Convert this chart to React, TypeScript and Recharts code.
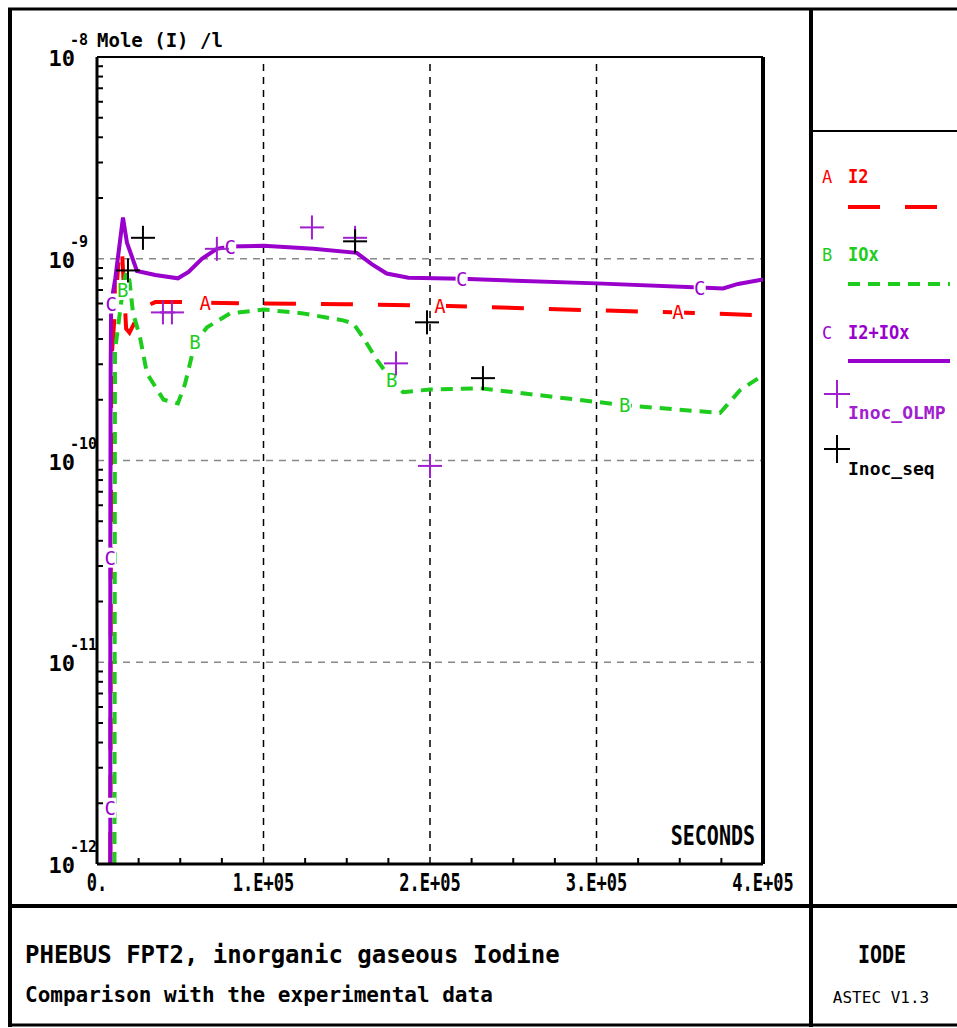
import React from 'react';
import { ComposedChart, Line, Scatter, XAxis, YAxis, ReferenceLine } from 'recharts';

// ---- data (seconds, mole/l) ----
const I2 = [
  { x: 8000, y: 1e-12 },
  { x: 8500, y: 3e-10 },
  { x: 13500, y: 1.14e-9 },
  { x: 15000, y: 1.1e-9 },
  { x: 17500, y: 4.5e-10 },
  { x: 19500, y: 4.3e-10 },
  { x: 24000, y: 5.1e-10 },
  { x: 29000, y: 5.8e-10 },
  { x: 35000, y: 6.1e-10 },
  { x: 50000, y: 6.1e-10 },
  { x: 65000, y: 6.05e-10, lab: 'A' },
  { x: 100000, y: 6.0e-10 },
  { x: 150000, y: 5.95e-10 },
  { x: 206000, y: 5.85e-10, lab: 'A' },
  { x: 300000, y: 5.55e-10 },
  { x: 349000, y: 5.42e-10, lab: 'A' },
  { x: 400000, y: 5.24e-10 },
];

const IOX = [
  { x: 10500, y: 1e-12 },
  { x: 10800, y: 3.5e-10 },
  { x: 15500, y: 7.0e-10, lab: 'B' },
  { x: 17500, y: 8.6e-10 },
  { x: 19500, y: 7.8e-10 },
  { x: 21600, y: 5.4e-10 },
  { x: 25800, y: 4.1e-10 },
  { x: 30000, y: 2.7e-10 },
  { x: 40000, y: 2.0e-10 },
  { x: 48600, y: 1.92e-10 },
  { x: 52900, y: 2.4e-10 },
  { x: 58900, y: 3.85e-10, lab: 'B' },
  { x: 66100, y: 4.57e-10 },
  { x: 79900, y: 5.36e-10 },
  { x: 100300, y: 5.6e-10 },
  { x: 123700, y: 5.36e-10 },
  { x: 147700, y: 4.95e-10 },
  { x: 153800, y: 4.79e-10 },
  { x: 159800, y: 4.08e-10 },
  { x: 168200, y: 3.14e-10 },
  { x: 177000, y: 2.5e-10, lab: 'B' },
  { x: 183800, y: 2.18e-10 },
  { x: 200000, y: 2.25e-10 },
  { x: 230000, y: 2.28e-10 },
  { x: 300300, y: 1.95e-10 },
  { x: 317000, y: 1.88e-10, lab: 'B' },
  { x: 374200, y: 1.72e-10 },
  { x: 386200, y: 2.23e-10 },
  { x: 400000, y: 2.65e-10 },
];

const I2_IOX = [
  { x: 8000, y: 1e-12 },
  { x: 8000, y: 1.9e-12, lab: 'C' },
  { x: 8000, y: 3.3e-11, lab: 'C' },
  { x: 8200, y: 2.8e-10 },
  { x: 8500, y: 6.0e-10, lab: 'C' },
  { x: 11000, y: 8.0e-10 },
  { x: 15600, y: 1.6e-9 },
  { x: 18000, y: 1.2e-9 },
  { x: 24000, y: 8.7e-10 },
  { x: 35000, y: 8.3e-10 },
  { x: 48600, y: 8.0e-10 },
  { x: 55000, y: 8.6e-10 },
  { x: 63000, y: 1.0e-9 },
  { x: 72000, y: 1.12e-9 },
  { x: 80000, y: 1.15e-9, lab: 'C' },
  { x: 100000, y: 1.16e-9 },
  { x: 130000, y: 1.12e-9 },
  { x: 156000, y: 1.07e-9 },
  { x: 165000, y: 9.4e-10 },
  { x: 174000, y: 8.45e-10 },
  { x: 187000, y: 8.05e-10 },
  { x: 219000, y: 7.95e-10, lab: 'C' },
  { x: 300000, y: 7.55e-10 },
  { x: 362000, y: 7.2e-10, lab: 'C' },
  { x: 376000, y: 7.13e-10 },
  { x: 385000, y: 7.5e-10 },
  { x: 400000, y: 7.9e-10 },
];

const INOC_OLMP = [
  { x: 39600, y: 5.42e-10 },
  { x: 45000, y: 5.42e-10 },
  { x: 72000, y: 1.12e-9 },
  { x: 129100, y: 1.43e-9 },
  { x: 155000, y: 1.27e-9 },
  { x: 179600, y: 3.03e-10 },
  { x: 200000, y: 9.4e-11 },
];

const INOC_SEQ = [
  { x: 18600, y: 8.75e-10 },
  { x: 27600, y: 1.27e-9 },
  { x: 155000, y: 1.22e-9 },
  { x: 198200, y: 4.84e-10 },
  { x: 231800, y: 2.56e-10 },
];

// ---- ticks ----
const X_MAJOR = [0, 100000, 200000, 300000, 400000];
const X_MAJOR_LABELS = ['0.', '1.E+05', '2.E+05', '3.E+05', '4.E+05'];
const X_MINOR = [25000, 50000, 75000, 125000, 150000, 175000, 225000, 250000, 275000, 325000, 350000, 375000];
const X_TICKS = [...X_MAJOR, ...X_MINOR].sort((a, b) => a - b);

const Y_MAJOR = [1e-12, 1e-11, 1e-10, 1e-9, 1e-8];
const Y_MAJOR_EXP = ['-12', '-11', '-10', '-9', '-8'];
const Y_MANTISSAS = [2, 3, 4, 5, 6, 7, 8, 9];
const Y_TICKS = [
  ...Y_MAJOR,
  ...Y_MAJOR.slice(0, 4).flatMap((d) => Y_MANTISSAS.map((m) => m * d)),
].sort((a, b) => a - b);
const X_GRID = [100000, 200000, 300000];
const Y_GRID = [1e-11, 1e-10, 1e-9];

const LEGEND = [
  { letter: 'A', name: 'I2', color: '#ff0000', dash: '32 25' },
  { letter: 'B', name: 'IOx', color: '#1ecc1e', dash: '12 8' },
  { letter: 'C', name: 'I2+IOx', color: '#9900cc', dash: undefined as string | undefined },
];
const MARKERS = [
  { name: 'Inoc_OLMP', color: '#a020d0' },
  { name: 'Inoc_seq', color: '#000000' },
];

const FONT = "'DejaVu Sans Mono', 'Liberation Mono', monospace";
const RED = '#ff0000';
const GREEN = '#1ecc1e';
const PURPLE = '#9900cc';

const YTick = (props: any) => {
  const { x, y, payload } = props;
  const v = payload.value;
  const i = Y_MAJOR.findIndex((m) => Math.abs(v / m - 1) < 1e-6);
  if (i >= 0) {
    return (
      <g>
        <text x={x - 22} y={y + 9} textAnchor="end" fontFamily={FONT} fontWeight="bold" fontSize={22} fill="#000">10</text>
        <text x={x - 27} y={y - 12} textAnchor="start" fontFamily={FONT} fontWeight="bold" fontSize={15} fill="#000">{Y_MAJOR_EXP[i]}</text>
      </g>
    );
  }
  return <line x1={x} x2={x + 6} y1={y} y2={y} stroke="#000" strokeWidth={2} />;
};

const XTick = (props: any) => {
  const { x, y, payload } = props;
  const v = payload.value;
  const i = X_MAJOR.indexOf(v);
  if (i >= 0) {
    return (
      <g transform={`translate(${x},${y + 27}) scale(1,1.5)`}>
        <text x={0} y={0} textAnchor="middle" fontFamily={FONT} fontWeight="bold" fontSize={17} fill="#000">{X_MAJOR_LABELS[i]}</text>
      </g>
    );
  }
  return <line x1={x} x2={x} y1={y} y2={y - 6} stroke="#000" strokeWidth={2} />;
};

const labelDot = (color: string) => (props: any) => {
  const { cx, cy, payload, index } = props;
  if (!payload || !payload.lab || cx == null || cy == null) return <g key={`d${index}`} />;
  return (
    <g key={`d${index}`}>
      <rect x={cx - 6} y={cy - 10} width={12} height={20} fill="#fff" />
      <text x={cx} y={cy + 7} textAnchor="middle" fontFamily={FONT} fontSize={19} fill={color}>{payload.lab}</text>
    </g>
  );
};

const plusShape = (color: string) => (props: any) => {
  const { cx, cy } = props;
  return (
    <g>
      <line x1={cx - 12} x2={cx + 12} y1={cy} y2={cy} stroke={color} strokeWidth={2} />
      <line x1={cx} x2={cx} y1={cy - 12} y2={cy + 12} stroke={color} strokeWidth={2} />
    </g>
  );
};

const T = (p: { x: number; y: number; s: string; size: number; bold?: boolean; color?: string; anchor?: string; sy?: number }) => (
  <g transform={`translate(${p.x},${p.y}) scale(1,${p.sy ?? 1})`}>
    <text x={0} y={0} fontFamily={FONT} fontSize={p.size} fontWeight={p.bold ? 'bold' : 'normal'} fill={p.color ?? '#000'} textAnchor={(p.anchor as any) ?? 'start'}>{p.s}</text>
  </g>
);

export default function App() {
  return (
    <div style={{ position: 'absolute', left: 0, top: 0, width: 957, height: 1028, background: '#fff', overflow: 'hidden' }}>
      <div style={{ position: 'absolute', left: 0, top: 0 }}>
        <ComposedChart width={957} height={1028} margin={{ top: 57, right: 194, bottom: 124, left: 37 }}>
          <XAxis
            xAxisId={0}
            dataKey="x"
            type="number"
            domain={[0, 400000]}
            allowDataOverflow
            ticks={X_TICKS}
            interval={0}
            tickSize={0}
            tickMargin={0}
            tick={<XTick />}
            tickLine={false}
            axisLine={{ stroke: '#000', strokeWidth: 3 }}
            height={40}
          />
          <YAxis
            yAxisId={0}
            dataKey="y"
            type="number"
            scale="log"
            domain={[1e-12, 1e-8]}
            allowDataOverflow
            ticks={Y_TICKS}
            interval={0}
            tickSize={0}
            tickMargin={0}
            tick={<YTick />}
            tickLine={false}
            axisLine={{ stroke: '#000', strokeWidth: 3 }}
            width={60}
          />
          {Y_GRID.map((v) => (
            <ReferenceLine key={`yg${v}`} y={v} stroke="#888" strokeWidth={1.5} strokeDasharray="7 6" />
          ))}
          {X_GRID.map((v) => (
            <ReferenceLine key={`xg${v}`} x={v} stroke="#000" strokeWidth={1.5} strokeDasharray="7 6" />
          ))}
          <ReferenceLine y={1e-8} stroke="#000" strokeWidth={2} />
          <ReferenceLine x={400000} stroke="#000" strokeWidth={4} />
          <Line data={I2} dataKey="y" type="linear" stroke={RED} strokeWidth={4} strokeDasharray="32 25" dot={labelDot(RED)} activeDot={false} isAnimationActive={false} />
          <Line data={IOX} dataKey="y" type="linear" stroke={GREEN} strokeWidth={4} strokeDasharray="12 8" dot={labelDot(GREEN)} activeDot={false} isAnimationActive={false} />
          <Line data={I2_IOX} dataKey="y" type="linear" stroke={PURPLE} strokeWidth={4} dot={labelDot(PURPLE)} activeDot={false} isAnimationActive={false} />
          <Scatter data={INOC_OLMP} dataKey="y" shape={plusShape('#a020d0')} isAnimationActive={false} />
          <Scatter data={INOC_SEQ} dataKey="y" shape={plusShape('#000')} isAnimationActive={false} />
        </ComposedChart>
      </div>
      <svg width={957} height={1028} style={{ position: 'absolute', left: 0, top: 0, pointerEvents: 'none' }}>
        {/* outer frame */}
        <line x1={10} x2={10} y1={8} y2={1027} stroke="#000" strokeWidth={4} />
        <line x1={8} x2={957} y1={9} y2={9} stroke="#000" strokeWidth={3} />
        <line x1={8} x2={957} y1={1025} y2={1025} stroke="#000" strokeWidth={3} />
        <line x1={811} x2={811} y1={8} y2={1027} stroke="#000" strokeWidth={4} />
        <line x1={8} x2={957} y1={906} y2={906} stroke="#000" strokeWidth={4} />
        <line x1={811} x2={957} y1={131} y2={131} stroke="#000" strokeWidth={2} />
        {/* texts */}
        <T x={97} y={47} s="Mole (I) /l" size={19} bold />
        <T x={755} y={845} s="SECONDS" size={20} bold anchor="end" sy={1.35} />
        <T x={25} y={963} s="PHEBUS FPT2, inorganic gaseous Iodine" size={24} bold />
        <T x={25} y={1002} s="Comparison with the experimental data" size={21} bold />
        <T x={882} y={963} s="IODE" size={20} bold anchor="middle" sy={1.2} />
        <T x={881} y={1003} s="ASTEC V1.3" size={16} anchor="middle" />
        {/* legend */}
        {LEGEND.map((l, i) => (
          <g key={l.letter}>
            <T x={822} y={183 + i * 78} s={l.letter} size={17} color={l.color} />
            <T x={848} y={183 + i * 78} s={l.name} size={17} bold color={l.color} sy={1.1} />
            <line x1={848} x2={i === 0 ? 937 : 950} y1={207 + i * 77} y2={207 + i * 77} stroke={l.color} strokeWidth={4} strokeDasharray={l.dash} />
          </g>
        ))}
        {MARKERS.map((m, i) => (
          <g key={m.name}>
            <line x1={824} x2={850} y1={394 + i * 55} y2={394 + i * 55} stroke={m.color} strokeWidth={2} />
            <line x1={837} x2={837} y1={380 + i * 55} y2={408 + i * 55} stroke={m.color} strokeWidth={2} />
            <T x={848} y={419 + i * 56} s={m.name} size={18} bold color={m.color} />
          </g>
        ))}
      </svg>
    </div>
  );
}
